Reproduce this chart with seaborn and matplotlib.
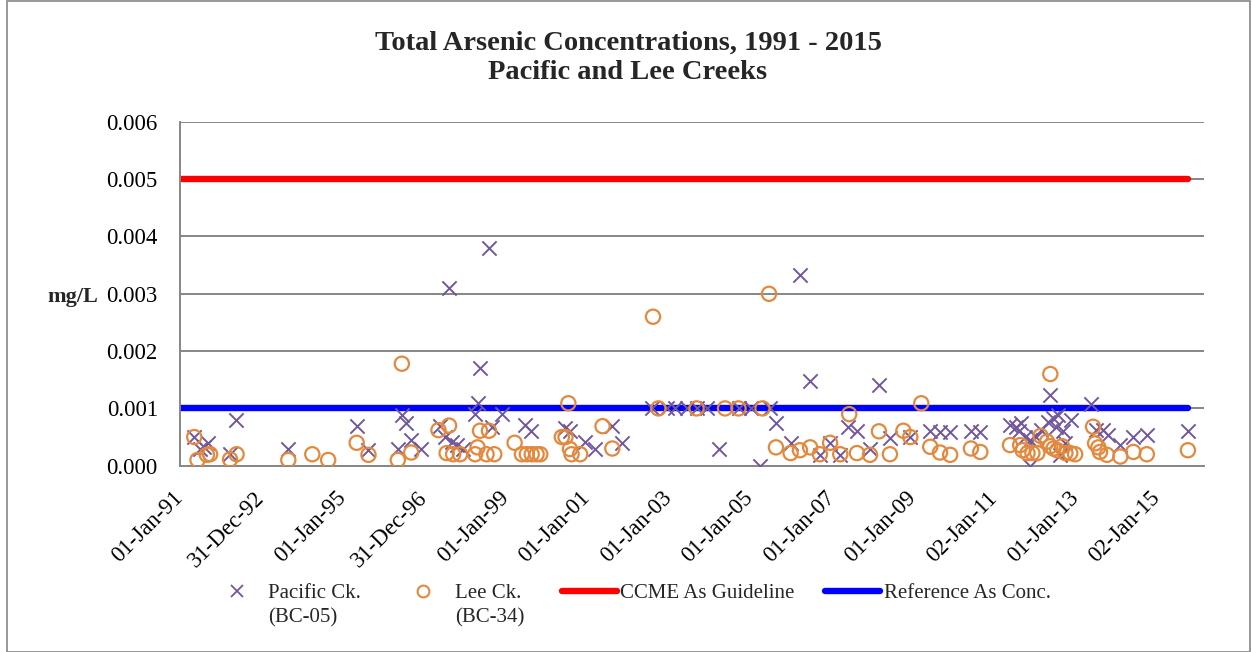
import matplotlib
matplotlib.use("Agg")
import matplotlib.pyplot as plt
from matplotlib.lines import Line2D
from matplotlib.patches import Rectangle
import pandas as pd
import seaborn as sns

# ---------------- data (decimal year, mg/L) ----------------
pacific_years = [1991.35, 1991.49, 1991.60, 1991.70, 1992.23, 1992.38, 1993.66, 1995.34, 1995.63,
                 1996.35, 1996.45, 1996.55, 1996.68, 1996.92, 1997.39, 1997.51, 1997.61, 1997.67,
                 1997.80, 1997.96, 1998.25, 1998.31, 1998.37, 1998.59, 1998.66, 1998.90, 1999.48,
                 1999.62, 2000.46, 2000.58, 2000.95, 2001.20, 2001.62, 2001.85, 2002.59, 2002.96,
                 2003.16, 2003.45, 2003.69, 2003.94, 2004.23, 2004.72, 2005.03, 2005.25, 2005.50,
                 2005.64, 2006.00, 2006.23, 2006.48, 2006.72, 2006.97, 2007.22, 2007.42, 2007.63,
                 2007.95, 2008.18, 2008.44, 2008.94, 2009.43, 2009.67, 2009.92, 2010.43, 2010.66,
                 2011.39, 2011.53, 2011.60, 2011.67, 2011.75, 2011.88, 2011.88, 2012.04, 2012.16,
                 2012.33, 2012.38, 2012.45, 2012.57, 2012.53, 2012.70, 2012.74, 2012.62, 2012.90,
                 2013.38, 2013.51, 2013.67, 2013.79, 2014.10, 2014.42, 2014.75, 2015.76]
pacific_vals = [0.0005, 0.0003, 0.00033, 0.0004, 0.0002, 0.0008, 0.0003, 0.0007, 0.00027,
                0.00029, 0.00088, 0.00075, 0.00045, 0.0003, 0.0007, 0.0005, 0.0031, 0.00042,
                0.00036, 0.0003, 0.0009, 0.00109, 0.0017, 0.0038, 0.00068, 0.0009, 0.00071,
                0.0006, 0.00065, 0.0006, 0.00042, 0.0003, 0.00069, 0.0004, 0.001, 0.001,
                0.001, 0.001, 0.001, 0.001, 0.00029, 0.001, 0.001, 0.0, 0.001,
                0.00075, 0.0004, 0.00333, 0.00148, 0.00019, 0.0004, 0.00019, 0.00068, 0.0006,
                0.0003, 0.0014, 0.00048, 0.0005, 0.0006, 0.00058, 0.00058, 0.0006, 0.00058,
                0.00071, 0.00068, 0.0006, 0.00074, 0.0005, 0.00045, 0.0, 0.0005, 0.00062,
                0.00077, 0.00123, 0.00083, 0.00088, 0.00068, 0.0006, 0.00039, 0.00019, 0.0008,
                0.00108, 0.00062, 0.00062, 0.00054, 0.00036, 0.0005, 0.00054, 0.0006]

lee_years = [1991.35, 1991.43, 1991.66, 1991.74, 1992.23, 1992.39, 1993.66, 1994.25, 1994.64,
             1995.34, 1995.63, 1996.35, 1996.45, 1996.68, 1997.35, 1997.61, 1997.55, 1997.71,
             1997.88, 1998.25, 1998.31, 1998.37, 1998.53, 1998.59, 1998.72, 1999.22, 1999.40,
             1999.52, 1999.64, 1999.76, 1999.85, 2000.38, 2000.47, 2000.54, 2000.58, 2000.62,
             2000.83, 2001.38, 2001.62, 2002.62, 2002.75, 2003.69, 2004.39, 2004.72, 2005.31,
             2005.47, 2005.64, 2006.00, 2006.23, 2006.48, 2006.72, 2006.97, 2007.22, 2007.44,
             2007.63, 2007.95, 2008.17, 2008.44, 2008.77, 2008.94, 2009.21, 2009.43, 2009.67,
             2009.92, 2010.43, 2010.66, 2011.39, 2011.64, 2011.70, 2011.82, 2011.94, 2012.06,
             2012.14, 2012.30, 2012.38, 2012.38, 2012.46, 2012.55, 2012.67, 2012.75, 2012.87,
             2012.99, 2013.43, 2013.48, 2013.56, 2013.60, 2013.77, 2014.10, 2014.42, 2014.75,
             2015.76]
lee_vals = [0.0005, 0.0001, 0.00019, 0.0002, 0.00011, 0.0002, 0.0001, 0.0002, 0.0001,
            0.0004, 0.00019, 0.0001, 0.00178, 0.00023, 0.00062, 0.0007, 0.00022, 0.0002,
            0.0002, 0.0002, 0.00032, 0.00061, 0.0002, 0.00061, 0.0002, 0.0004, 0.0002,
            0.0002, 0.0002, 0.0002, 0.0002, 0.0005, 0.0005, 0.00109, 0.00029, 0.0002,
            0.0002, 0.00069, 0.0003, 0.0026, 0.001, 0.001, 0.001, 0.001, 0.001,
            0.003, 0.00032, 0.00022, 0.00027, 0.00032, 0.0002, 0.0004, 0.0002, 0.0009,
            0.00022, 0.00019, 0.0006, 0.0002, 0.00061, 0.0005, 0.00109, 0.00033, 0.00023,
            0.00019, 0.0003, 0.00024, 0.00036, 0.00036, 0.00027, 0.00022, 0.00022, 0.00022,
            0.00052, 0.00042, 0.0016, 0.00034, 0.0003, 0.00027, 0.00034, 0.00022, 0.00022,
            0.0002, 0.00068, 0.00039, 0.00032, 0.00024, 0.00019, 0.00016, 0.00024, 0.0002,
            0.00027]

ccme_guideline = 0.005
reference_conc = 0.001
line_span = ["1991-01-01", "2015-10-05"]

series_names = ["Pacific Ck.", "Lee Ck.", "CCME As Guideline", "Reference As Conc."]
series_sublabels = ["(BC-05)", "(BC-34)", "", ""]
title_text = "Total Arsenic Concentrations, 1991 - 2015\nPacific and Lee Creeks"
y_label = "mg/L"

tick_dates = ["1991-01-01", "1992-12-31", "1995-01-01", "1996-12-31", "1999-01-01", "2001-01-01",
              "2003-01-01", "2005-01-01", "2007-01-01", "2009-01-01", "2011-01-02", "2013-01-01",
              "2015-01-02"]
tick_labels = ["01-Jan-91", "31-Dec-92", "01-Jan-95", "31-Dec-96", "01-Jan-99", "01-Jan-01",
               "01-Jan-03", "01-Jan-05", "01-Jan-07", "01-Jan-09", "02-Jan-11", "01-Jan-13",
               "02-Jan-15"]
y_ticks = [0.0, 0.001, 0.002, 0.003, 0.004, 0.005, 0.006]
y_tick_labels = ["0.000", "0.001", "0.002", "0.003", "0.004", "0.005", "0.006"]


def to_dates(years):
    base = pd.Timestamp("1991-01-01")
    return [base + pd.Timedelta(days=(y - 1991) * 365.25) for y in years]


pac = pd.DataFrame({"date": to_dates(pacific_years), "value": pacific_vals})
lee = pd.DataFrame({"date": to_dates(lee_years), "value": lee_vals})
span = pd.to_datetime(line_span)
guide = pd.DataFrame({"date": span, "value": [ccme_guideline] * 2})
ref = pd.DataFrame({"date": span, "value": [reference_conc] * 2})

# ---------------- style ----------------
sns.set_theme(style="white")
plt.rcParams["font.family"] = ["Liberation Serif", "DejaVu Serif"]

PURPLE = "#72589A"
ORANGE = "#E3893D"
GREY = "#868686"
W, H = 1252, 652

fig = plt.figure(figsize=(12.52, 6.52), dpi=100)
ax = fig.add_axes([180 / W, 1 - 465.7 / H, 1024 / W, (465.7 - 121.9) / H])

sns.lineplot(data=guide, x="date", y="value", ax=ax, color="#FF0000", lw=4.6,
             solid_capstyle="round", zorder=2)
sns.lineplot(data=ref, x="date", y="value", ax=ax, color="#0000FF", lw=4.6,
             solid_capstyle="round", zorder=2)
sns.scatterplot(data=pac, x="date", y="value", ax=ax, marker="x", color=PURPLE,
                s=105, linewidth=1.4, zorder=3)
sns.scatterplot(data=lee, x="date", y="value", ax=ax, marker="o", facecolor="none",
                edgecolor=ORANGE, s=105, linewidth=1.6, zorder=4)

ax.set_xlim(pd.Timestamp("1991-01-01"), pd.Timestamp("2016-02-27"))
ax.set_ylim(0, 0.006)
ax.set_yticks(y_ticks)
ax.set_yticklabels(y_tick_labels, fontsize=16.5)
ax.set_xticks(pd.to_datetime(tick_dates))
ax.set_xticklabels(tick_labels, fontsize=16.5, rotation=45, ha="right", va="center",
                   rotation_mode="anchor")
ax.set_xlabel("")
ax.set_ylabel("")
ax.yaxis.grid(True, color=GREY, lw=1.4)
ax.xaxis.grid(False)
ax.set_axisbelow(True)
for s in ["top", "right"]:
    ax.spines[s].set_visible(False)
for s in ["left", "bottom"]:
    ax.spines[s].set_color(GREY)
    ax.spines[s].set_linewidth(1.4)
ax.tick_params(axis="both", which="both", direction="out", length=5, width=1.4, color=GREY,
               labelcolor="black")
ax.tick_params(axis="y", pad=11)
ax.tick_params(axis="x", pad=16)

fig.text(628 / W, 1 - 58 / H, title_text, ha="center", va="center", fontsize=20.5,
         fontweight="bold", linespacing=1.2)
fig.text(98 / W, 1 - 297 / H, y_label, ha="right", va="center", fontsize=16,
         fontweight="bold")

# ---------------- legend ----------------
fs = 15
fs_px = fs * 100 / 72
handles = [
    Line2D([], [], ls="none", marker="x", color=PURPLE, ms=8, mew=1.3),
    Line2D([], [], ls="none", marker="o", mfc="none", mec=ORANGE, ms=8.5, mew=1.5),
    Line2D([], [], color="#FF0000", lw=4.6, solid_capstyle="round"),
    Line2D([], [], color="#0000FF", lw=4.6, solid_capstyle="round"),
]
# (left px, handle length px, text start px)
spec = [(226.6, 20.8, 268), (412.6, 20.8, 455), (562, 55, 620), (825, 55, 884)]
legend_y = 593
for h, lab, sub, (L, hl, ts) in zip(handles, series_names, series_sublabels, spec):
    lg = fig.legend(handles=[h], labels=[lab], loc="center left",
                    bbox_to_anchor=(L / W, 1 - legend_y / H), bbox_transform=fig.transFigure,
                    frameon=False, fontsize=fs, borderpad=0, borderaxespad=0,
                    handlelength=hl / fs_px, handletextpad=(ts - L - hl) / fs_px)
    if sub:
        fig.text(ts / W, 1 - (legend_y + 25) / H, sub, ha="left", va="center", fontsize=fs)

fig.patches.append(Rectangle((7 / W, 0.5 / H), 1243 / W, 651 / H, transform=fig.transFigure,
                             fill=False, edgecolor=GREY, lw=1.2))

fig.savefig("out.png", dpi=100, facecolor="white")
